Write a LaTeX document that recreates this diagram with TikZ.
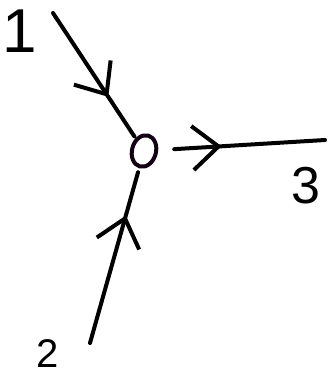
\documentclass[tikz,border=0pt]{standalone}
\usepackage{fontspec}
\setmainfont{Liberation Sans}
\usetikzlibrary{arrows.meta,shapes.geometric,decorations.markings}

\begin{document}
\begin{tikzpicture}[x=1pt,y=-1pt,line width=4pt,line cap=round]
% ---- styles ----
\tikzstyle{hub}=[ellipse,draw=black!85!violet,line width=4pt,
  minimum width=24pt,minimum height=32pt,rotate=-15]
\tikzstyle{lbl}=[inner sep=0pt]
\tikzstyle{midarrow}=[postaction={decorate},decoration={markings,
  mark=at position #1 with {\arrow{Straight Barb[length=26pt 0 0,width=44pt 0 0,line width=4pt]}}}]

\useasboundingbox (0,0) rectangle (331,379);

% ---- junction and labels ----
\node[hub] (o) at (144,151) {};
\node[lbl,font=\fontsize{62}{62}\selectfont] (l1) at (20,31) {1};
\node[lbl,font=\fontsize{40}{40}\selectfont] (l2) at (48,354) {2};
\node[lbl,font=\fontsize{52}{52}\selectfont] (l3) at (306,186) {3};

% ---- free ends ----
\coordinate (in1) at (53,13);
\coordinate (in2) at (90,343);
\coordinate (out3) at (325,140);

% ---- branches ----
\draw[midarrow=0.67,shorten >=2pt] (in1) -- (o);
\draw[midarrow=0.73,shorten >=4pt] (in2) -- (o);
\draw[midarrow=0.38,shorten <=16pt] (o) -- (out3);

\end{tikzpicture}
\end{document}
